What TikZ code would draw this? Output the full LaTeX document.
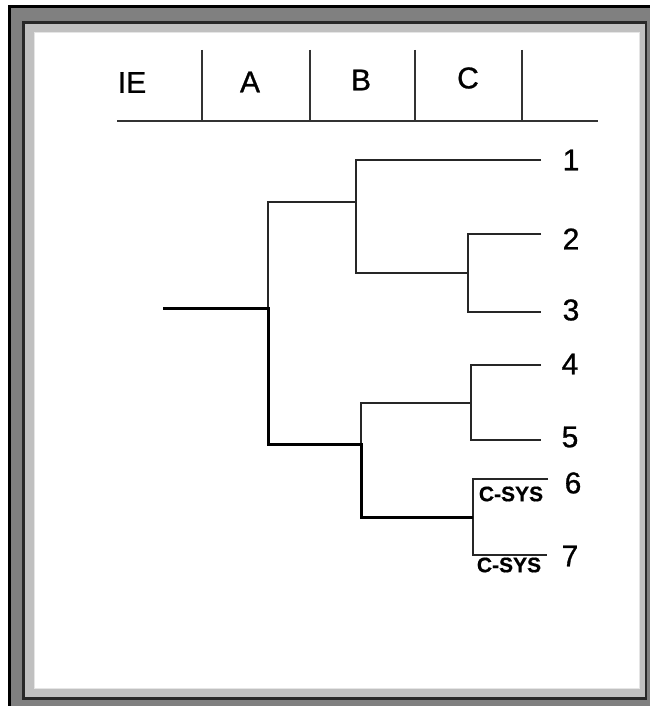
\documentclass[tikz,border=0pt]{standalone}
\usepackage{fontspec}
\setmainfont{Liberation Sans}
\newfontfamily\lblfont{Liberation Sans}[FakeBold=0.9]
\newfontfamily\smallbold{Liberation Sans Bold}[FakeBold=0.6]
\definecolor{framegray}{HTML}{808080}
\definecolor{framelight}{HTML}{C0C0C0}
\definecolor{framedark}{HTML}{282828}
\begin{document}
\begin{tikzpicture}[x=1pt,y=-1pt,
  thinline/.style={line width=1.5pt, black!85, line join=miter},
  thickline/.style={line width=3pt, black, line join=miter},
  headline/.style={line width=1.5pt, black!80},
  leaf/.style={font=\lblfont\fontsize{30}{30}\selectfont, inner sep=0pt, anchor=center},
  head/.style={font=\lblfont\fontsize{30}{30}\selectfont, inner sep=0pt, anchor=center},
  csys/.style={font=\smallbold\fontsize{21}{21}\selectfont, inner sep=0pt, anchor=center}]
% frame
\useasboundingbox (0,0) rectangle (650,706);
\fill[white] (0,0) rectangle (650,706);
\fill[black] (8,5) rectangle (650,706);
\fill[framegray] (11,8) rectangle (650,706);
\fill[framedark] (22,21) rectangle (647,700);
\fill[framelight] (25,24) rectangle (645,697);
\fill[black!10] (34,32) rectangle (640,689);
\fill[white] (35,33) rectangle (639,688);
% header
\coordinate (hl) at (117,121);
\coordinate (hr) at (598,121);
\draw[headline] (hl) -- (hr);
\foreach \x/\n in {202/a,310/b,415/c,522/d}{
  \coordinate (v\n t) at (\x,50);
  \coordinate (v\n b) at (\x,121);
  \draw[headline] (v\n t) -- (v\n b);
}
\node[head] (hIE) at (132,82.5) {IE};
\node[head] (hA) at (250,82) {A};
\node[head] (hB) at (361,80) {B};
\node[head] (hC) at (468,78) {C};
% tree coordinates
\coordinate (r0) at (163,308);
\coordinate (n1) at (268,308);
\coordinate (n2) at (356,202);
\coordinate (n2bot) at (356,273);
\coordinate (n3) at (468,273);
\coordinate (n3bot) at (468,312);
\coordinate (n4) at (361,444);
\coordinate (n4top) at (361,403);
\coordinate (n5) at (471,403);
\coordinate (n5bot) at (471,440);
\coordinate (n6) at (473,517);
\coordinate (n6bot) at (473,555);
\coordinate (e1) at (541,160);
\coordinate (e2) at (541,234);
\coordinate (e3) at (541,312);
\coordinate (e4) at (541,365);
\coordinate (e5) at (541,440);
\coordinate (e6) at (548,479);
\coordinate (e7) at (547,555);
% thin branches
\draw[thinline] (n1) |- (n2);
\draw[thinline] (e1) -| (n2bot) -- (n3);
\draw[thinline] (e2) -| (n3bot) -- (e3);
\draw[thinline] (n4) -- (n4top) -- (n5);
\draw[thinline] (e4) -| (n5bot) -- (e5);
\draw[thinline] (e6) -| (n6bot) -- (e7);
% thick branches
\draw[thickline] (r0) -- (n1) |- (n4) |- (n6);
% leaf labels
\node[leaf] (l1) at (571,160) {1};
\node[leaf] (l2) at (571,239) {2};
\node[leaf] (l3) at (571,310) {3};
\node[leaf] (l4) at (570,364) {4};
\node[leaf] (l5) at (570,437) {5};
\node[leaf] (l6) at (573,483) {6};
\node[leaf] (l7) at (570,556) {7};
\node[csys] (c6) at (511,494) {C-SYS};
\node[csys] (c7) at (509,565) {C-SYS};
\end{tikzpicture}
\end{document}
